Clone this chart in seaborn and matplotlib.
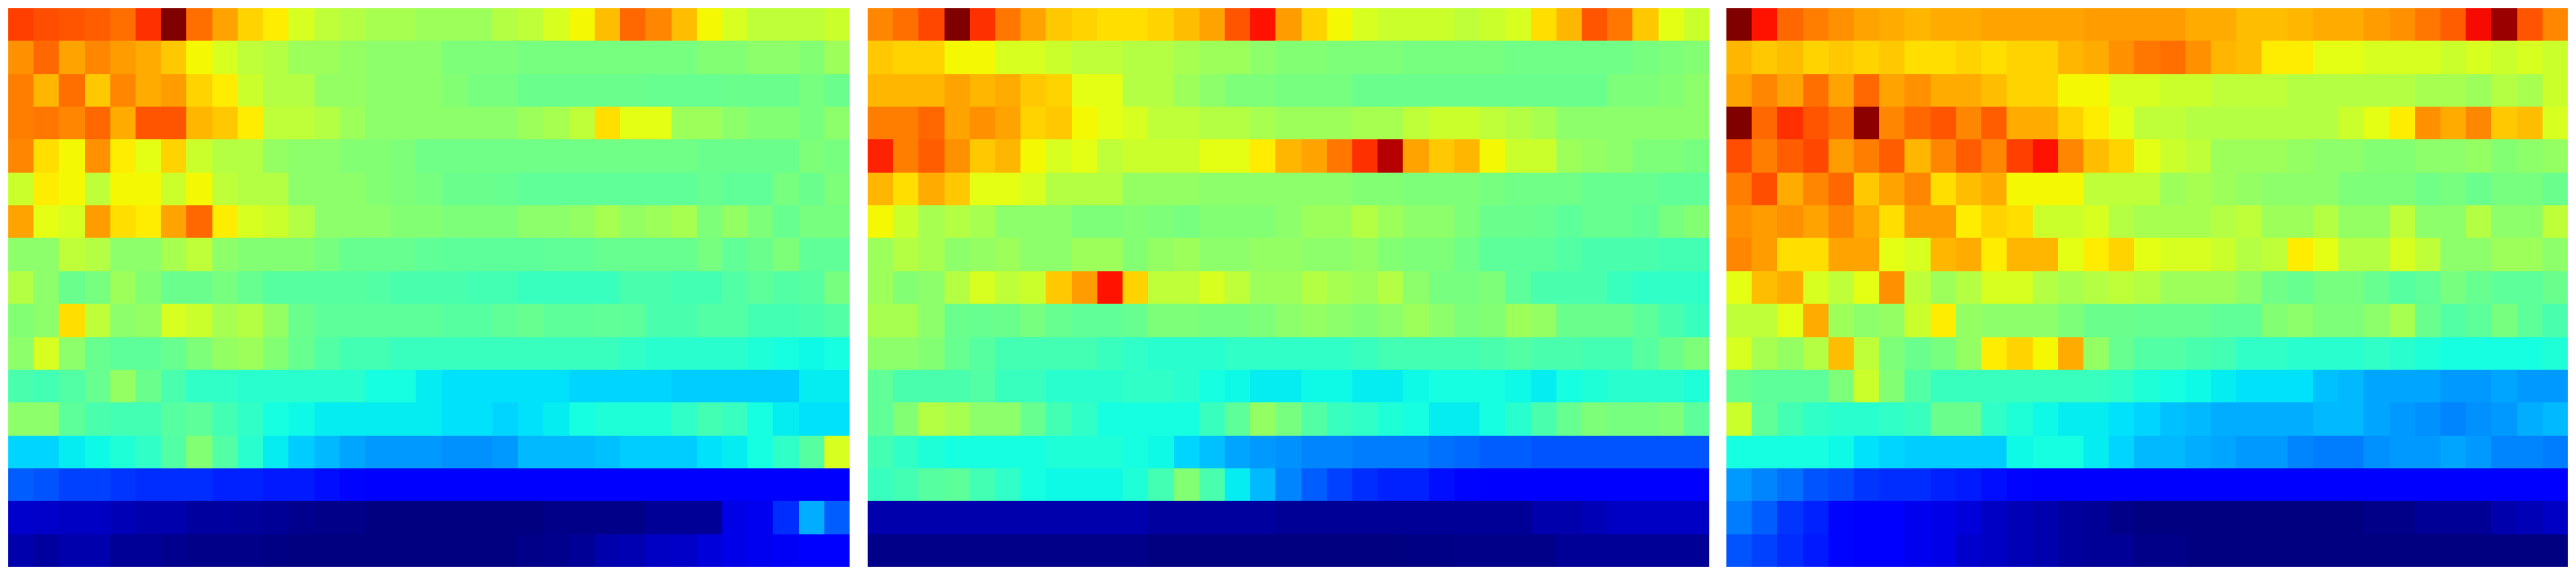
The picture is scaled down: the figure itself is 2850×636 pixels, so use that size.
import numpy as np
import matplotlib
matplotlib.use("Agg")
import matplotlib.pyplot as plt
from matplotlib.colors import ListedColormap
import seaborn as sns

# values, scale 0-100 on the jet colormap
left_rows = [
    [84,82,81,80,78,85,100,78,72,67,65,62,60,59,58,58,57,57,57,59,60,62,64,69,79,75,69,64,62,60,60,60,61],
    [74,79,72,75,73,71,68,64,62,60,59,57,57,56,55,55,55,53,53,53,52,52,52,52,52,52,52,54,54,55,55,54,57],
    [76,70,78,68,75,71,73,67,65,61,59,59,56,56,55,55,55,54,52,52,50,50,50,50,50,49,49,49,50,50,50,52,50],
    [76,77,75,79,71,81,81,70,68,65,60,60,59,57,55,55,55,55,55,55,57,58,60,66,63,63,57,57,55,54,54,52,55],
    [75,66,64,74,65,63,67,61,59,59,56,55,55,54,54,53,51,51,51,51,51,51,51,51,51,51,51,50,50,50,50,53,52],
    [61,65,64,60,64,64,61,64,60,59,59,55,55,55,54,53,52,50,50,49,48,48,48,48,48,48,48,49,48,48,52,50,53],
    [72,63,62,73,66,65,72,79,65,62,61,59,55,55,55,54,54,53,53,53,55,55,56,58,56,57,58,53,56,53,49,52,52],
    [55,55,60,59,55,55,58,60,55,54,54,54,52,49,49,49,48,47,47,47,47,48,48,49,49,49,49,52,48,50,53,48,48],
    [59,55,50,52,57,54,50,50,52,49,46,46,46,46,45,44,44,44,43,43,42,42,42,42,44,44,43,43,45,47,45,46,52],
    [54,55,66,60,55,56,62,61,58,59,56,50,47,47,47,47,47,46,46,48,49,47,47,48,47,44,44,45,45,43,43,44,45],
    [55,62,55,49,47,47,49,53,56,57,54,49,45,43,43,42,42,42,42,42,42,42,42,42,41,40,40,40,40,39,38,37,38],
    [44,43,45,49,56,50,44,41,41,40,40,40,40,40,38,38,36,35,35,35,35,35,34,34,34,34,33,33,33,33,33,36,36],
    [55,55,47,44,43,43,46,47,43,41,38,37,36,36,36,36,36,35,35,34,35,36,38,39,39,39,41,43,42,38,36,35,35],
    [34,34,36,37,39,41,45,54,45,40,36,33,31,29,28,28,28,27,27,28,31,31,31,32,33,33,33,35,36,38,41,46,62],
    [22,21,19,19,18,17,17,17,16,16,15,15,14,13,12,12,11,11,11,11,11,11,11,11,11,11,11,11,11,11,11,11,11],
    [7,6.5,6,6,5,4,4,3,3,2.5,2,1.5,1,1,0,0,0,0,0,0,0,1,1,1,1,2,2,2,9,10,17,30,22],
    [4,3,4,4,2,2,1.5,1,1,1,0.5,0,0,0,0,0,0,0,0,0,1,1.5,2,4,4.5,6,6.5,8,9,10,10.5,11,11],
]

middle_rows = [
    [75,78,83,100,85,77,72,68,67,66,66,67,69,72,81,87,73,67,64,62,61,61,61,60,61,62,66,70,81,77,68,63,61],
    [68,67,67,64,64,62,62,61,60,60,59,59,58,57,57,55,54,54,53,53,53,52,52,52,52,51,51,51,51,51,52,53,54],
    [70,70,70,72,70,71,68,67,63,63,59,59,57,55,53,53,52,52,52,50,50,50,50,50,50,50,50,50,50,53,53,54,55],
    [76,76,79,72,74,72,67,68,64,63,62,60,60,59,59,58,57,57,57,58,58,60,61,61,60,59,58,55,55,55,55,55,55],
    [86,76,80,74,68,70,64,62,63,60,61,61,61,63,63,65,70,72,77,85,96,72,68,70,64,61,61,57,56,55,53,53,52],
    [70,66,71,68,63,63,62,59,59,59,56,56,56,55,55,55,55,55,55,54,54,53,53,53,52,51,51,51,49,49,49,48,48],
    [64,61,58,59,58,55,55,55,53,53,54,53,52,54,54,54,55,57,57,59,57,55,55,53,50,50,49,47,49,49,48,52,54],
    [57,59,58,55,56,57,55,55,57,57,54,56,57,55,55,56,56,55,55,56,54,53,53,51,47,47,47,45,44,44,44,43,43],
    [57,54,55,59,62,60,61,68,73,87,67,60,60,62,60,57,57,59,58,57,59,55,52,52,53,47,44,44,44,42,41,41,41],
    [58,58,55,50,49,50,52,49,48,48,49,53,53,52,52,53,55,56,55,54,55,57,55,53,54,57,56,50,50,50,47,44,42],
    [55,55,54,49,46,43,43,43,43,42,41,40,40,40,41,41,41,41,41,42,43,43,43,43,44,45,44,44,43,43,46,50,53],
    [48,44,44,44,45,42,42,40,40,40,41,41,40,38,37,36,36,37,37,36,36,37,38,38,38,37,36,38,39,40,40,40,39],
    [48,54,59,58,55,55,49,43,41,38,38,38,38,42,47,56,52,45,42,41,39,38,36,36,38,40,44,49,53,52,52,53,47],
    [43,41,39,38,38,38,38,39,39,39,38,37,34,32,29,28,27,26,26,25,25,25,24,23,22,22,21,21,21,21,21,21,21],
    [42,43,46,47,43,41,38,37,37,37,39,43,54,44,36,31,26,22,19,17,16,16,14,13,12,11,11,11,11,11,11,11,11],
    [4,4,4,4,4,4,4,4,4,4,4,3,3,3,3,3,2,2,2,2,2,2,2,2,2,2,4,4,5,6,6,6,6],
    [1,1,1,1,1,1,1,1,1,1,1,0,0,0,0,0,0,0,0,0,0,0.5,0.5,1,1,1,1,2,2,2,2,2,2],
]

right_rows = [
    [100,87,79,76,74,72,71,70,71,71,72,72,72,72,73,73,73,73,71,71,69,69,70,71,71,73,74,77,80,88,98,81,75],
    [70,68,69,67,68,67,68,66,66,67,66,67,67,70,71,74,77,78,74,70,69,65,65,63,63,62,62,62,61,62,61,62,61],
    [72,75,72,78,72,79,72,74,71,71,69,67,67,64,64,62,62,61,61,60,60,60,59,59,59,59,59,58,58,57,59,58,61],
    [100,79,85,81,78,99,75,79,81,75,80,71,71,67,65,63,60,60,59,59,59,59,59,59,61,63,65,74,71,75,68,69,62],
    [82,76,80,83,73,76,80,70,75,80,75,84,87,75,69,67,63,61,60,57,57,57,56,55,55,54,54,55,55,56,54,55,56],
    [76,82,71,75,79,68,72,75,66,69,71,64,64,64,60,60,60,57,58,57,56,55,55,55,53,53,53,51,52,50,52,52,50],
    [74,73,74,72,75,71,66,73,73,65,67,66,61,61,62,59,58,58,58,59,60,57,57,59,56,56,60,55,55,59,55,55,60],
    [75,73,66,66,72,72,63,62,70,71,65,70,70,63,65,67,63,62,62,61,59,60,65,63,59,59,62,60,55,55,57,57,55],
    [63,69,71,62,60,63,74,60,57,59,62,62,59,58,59,60,59,57,57,57,55,51,49,52,52,49,46,48,52,49,47,47,50],
    [60,60,63,71,57,55,56,61,65,56,55,55,55,53,50,50,49,49,49,48,48,54,55,53,53,55,58,50,45,47,52,47,44],
    [62,58,56,59,69,60,53,50,52,56,65,67,64,71,56,49,45,45,44,43,41,41,40,40,40,41,40,39,38,38,38,38,39],
    [49,47,47,47,53,61,54,45,42,42,42,42,42,42,42,41,39,38,37,36,35,35,35,32,31,29,29,29,28,28,29,28,28],
    [61,48,43,41,40,40,41,42,50,50,41,39,37,36,36,35,34,32,31,30,30,30,30,31,31,29,28,27,26,27,28,30,31],
    [38,38,38,38,37,35,34,33,33,33,33,37,38,38,36,34,31,31,30,29,28,28,26,25,25,27,28,28,29,28,26,26,25],
    [28,26,24,21,20,18,17,17,16,15,14,13,12,11,11,11,11,11,11,11,11,11,11,11,11,11,11,11,11,11,11,11,11],
    [25,22,18,16,13,11,11,10,9,8,6,5,4,3,2,1,0,0,0,0,0,0,0,0,0,1,1,2,2,2,4,5,6],
    [21,19,17,15,13,11,11,10,9,7,6,5,4,3,2,2,1,1,0,0,0,0,0,0,0,0,0,0,0,0,0,0,0],
]

# my readings are a bit off from true jet in the mid and warm range, so line them up here
read_levels = [0, 11, 33, 40, 45, 50, 53, 57, 60, 64, 66, 69, 72, 74, 76, 78, 80, 84, 87, 90, 96, 100]
jet_levels = [0, .11, .325, .40, .45, .48, .50, .54, .58, .645, .675, .71, .735, .757, .775, .79, .81, .84, .89, .91, .95, 1]
jet = plt.get_cmap("jet")
read_jet = ListedColormap(jet(np.interp(np.linspace(0, 100, 1001), read_levels, jet_levels)))

panels = [left_rows, middle_rows, right_rows]
ax_lefts = [9, 960, 1910]

fig = plt.figure(figsize=(28.5, 6.36), dpi=100)
for rows, x0 in zip(panels, ax_lefts):
    ax = fig.add_axes([x0 / 2850, 9 / 636, 931 / 2850, 618 / 636])
    sns.heatmap(np.array(rows, dtype=float), ax=ax, cmap=read_jet, vmin=0, vmax=100,
                cbar=False, xticklabels=False, yticklabels=False)

fig.savefig("out.png", dpi=100)
